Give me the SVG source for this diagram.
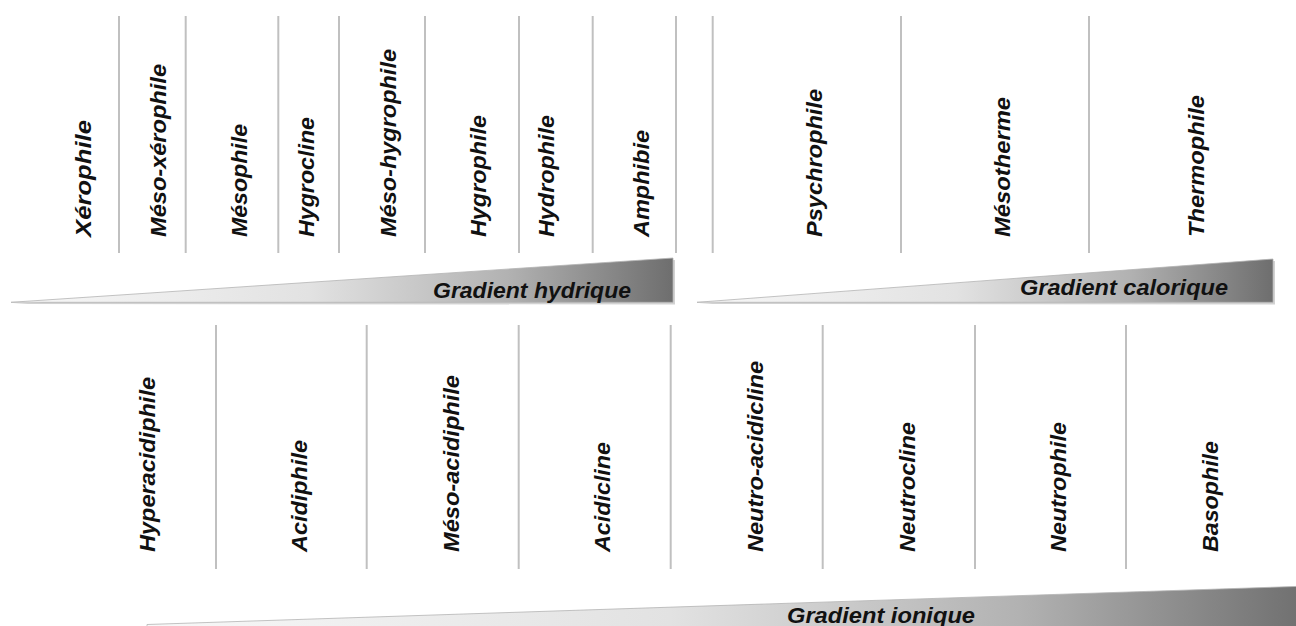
<svg xmlns="http://www.w3.org/2000/svg" width="1296" height="626" viewBox="0 0 1296 626">
  <style>
    .sep { stroke: #c0c0c0; stroke-width: 2; }
    .lbl { font-family: "Liberation Sans", Arial, sans-serif; font-weight: bold; font-style: italic; font-size: 22px; fill: #111111; }
    .wedge { fill: url(#grad); stroke: #b4b4b4; stroke-width: 0.8; }
    .shadow { fill: #d2d2d2; }
  </style>
  <defs>
    <linearGradient id="grad" x1="0" y1="0" x2="1" y2="0">
      <stop offset="0" stop-color="#f8f8f8"/>
      <stop offset="0.45" stop-color="#e2e2e2"/>
      <stop offset="0.75" stop-color="#b2b2b2"/>
      <stop offset="1" stop-color="#6e6e6e"/>
    </linearGradient>
  </defs>
  <rect width="1296" height="626" fill="#ffffff"/>

  <!-- separators (connectors group) -->
  <g id="separators">
    <line class="sep" x1="119" y1="16" x2="119" y2="253"/>
    <line class="sep" x1="185.7" y1="16" x2="185.7" y2="253"/>
    <line class="sep" x1="278.3" y1="16" x2="278.3" y2="253"/>
    <line class="sep" x1="339" y1="16" x2="339" y2="253"/>
    <line class="sep" x1="425" y1="16" x2="425" y2="253"/>
    <line class="sep" x1="519" y1="16" x2="519" y2="253"/>
    <line class="sep" x1="592.7" y1="16" x2="592.7" y2="253"/>
    <line class="sep" x1="676" y1="16" x2="676" y2="253"/>
    <line class="sep" x1="712.7" y1="16" x2="712.7" y2="253"/>
    <line class="sep" x1="901" y1="16" x2="901" y2="253"/>
    <line class="sep" x1="1089" y1="16" x2="1089" y2="253"/>
    <line class="sep" x1="216" y1="325" x2="216" y2="569"/>
    <line class="sep" x1="366.7" y1="325" x2="366.7" y2="569"/>
    <line class="sep" x1="518.7" y1="325" x2="518.7" y2="569"/>
    <line class="sep" x1="670.7" y1="325" x2="670.7" y2="569"/>
    <line class="sep" x1="822.7" y1="325" x2="822.7" y2="569"/>
    <line class="sep" x1="975" y1="325" x2="975" y2="569"/>
    <line class="sep" x1="1126" y1="325" x2="1126" y2="569"/>
  </g>

  <!-- gradient wedges -->
  <g id="gradient-hydrique">
    <polygon class="shadow" points="13,304 675,260 675,304.5"/>
    <polygon class="wedge" points="11,302.3 673,258 673,302.3"/>
    <text class="lbl" x="433" y="297.5" textLength="198" lengthAdjust="spacingAndGlyphs">Gradient hydrique</text>
  </g>
  <g id="gradient-calorique">
    <polygon class="shadow" points="699,304 1275,261 1275,304.5"/>
    <polygon class="wedge" points="697,302.3 1273,259 1273,302.3"/>
    <text class="lbl" x="1020" y="295" textLength="208" lengthAdjust="spacingAndGlyphs">Gradient calorique</text>
  </g>
  <g id="gradient-ionique">
    <polygon class="shadow" points="149,626.5 1300,588 1300,630"/>
    <polygon class="wedge" points="147,624.5 1310,586 1310,630 147,630"/>
    <text class="lbl" x="787" y="623" textLength="188" lengthAdjust="spacingAndGlyphs">Gradient ionique</text>
  </g>

  <!-- hydric labels -->
  <g id="xerophile"><text class="lbl" transform="translate(91,237) rotate(-90)" textLength="117" lengthAdjust="spacingAndGlyphs">Xérophile</text></g>
  <g id="meso-xerophile"><text class="lbl" transform="translate(166,237) rotate(-90)" textLength="173" lengthAdjust="spacingAndGlyphs">Méso-xérophile</text></g>
  <g id="mesophile"><text class="lbl" transform="translate(246.5,237) rotate(-90)" textLength="113" lengthAdjust="spacingAndGlyphs">Mésophile</text></g>
  <g id="hygrocline"><text class="lbl" transform="translate(314,237) rotate(-90)" textLength="120" lengthAdjust="spacingAndGlyphs">Hygrocline</text></g>
  <g id="meso-hygrophile"><text class="lbl" transform="translate(396,237) rotate(-90)" textLength="188" lengthAdjust="spacingAndGlyphs">Méso-hygrophile</text></g>
  <g id="hygrophile"><text class="lbl" transform="translate(486,237) rotate(-90)" textLength="122" lengthAdjust="spacingAndGlyphs">Hygrophile</text></g>
  <g id="hydrophile"><text class="lbl" transform="translate(554,237) rotate(-90)" textLength="122" lengthAdjust="spacingAndGlyphs">Hydrophile</text></g>
  <g id="amphibie"><text class="lbl" transform="translate(649,237) rotate(-90)" textLength="107" lengthAdjust="spacingAndGlyphs">Amphibie</text></g>

  <!-- caloric labels -->
  <g id="psychrophile"><text class="lbl" transform="translate(822,237) rotate(-90)" textLength="148" lengthAdjust="spacingAndGlyphs">Psychrophile</text></g>
  <g id="mesotherme"><text class="lbl" transform="translate(1010,237) rotate(-90)" textLength="140" lengthAdjust="spacingAndGlyphs">Mésotherme</text></g>
  <g id="thermophile"><text class="lbl" transform="translate(1204,237) rotate(-90)" textLength="142" lengthAdjust="spacingAndGlyphs">Thermophile</text></g>

  <!-- ionic labels -->
  <g id="hyperacidiphile"><text class="lbl" transform="translate(155,552) rotate(-90)" textLength="175" lengthAdjust="spacingAndGlyphs">Hyperacidiphile</text></g>
  <g id="acidiphile"><text class="lbl" transform="translate(307,552) rotate(-90)" textLength="112" lengthAdjust="spacingAndGlyphs">Acidiphile</text></g>
  <g id="meso-acidiphile"><text class="lbl" transform="translate(459,552) rotate(-90)" textLength="177" lengthAdjust="spacingAndGlyphs">Méso-acidiphile</text></g>
  <g id="acidicline"><text class="lbl" transform="translate(610,552) rotate(-90)" textLength="110" lengthAdjust="spacingAndGlyphs">Acidicline</text></g>
  <g id="neutro-acidicline"><text class="lbl" transform="translate(763,552) rotate(-90)" textLength="191" lengthAdjust="spacingAndGlyphs">Neutro-acidicline</text></g>
  <g id="neutrocline"><text class="lbl" transform="translate(915,552) rotate(-90)" textLength="130" lengthAdjust="spacingAndGlyphs">Neutrocline</text></g>
  <g id="neutrophile"><text class="lbl" transform="translate(1066,552) rotate(-90)" textLength="130" lengthAdjust="spacingAndGlyphs">Neutrophile</text></g>
  <g id="basophile"><text class="lbl" transform="translate(1218,552) rotate(-90)" textLength="111" lengthAdjust="spacingAndGlyphs">Basophile</text></g>
</svg>
